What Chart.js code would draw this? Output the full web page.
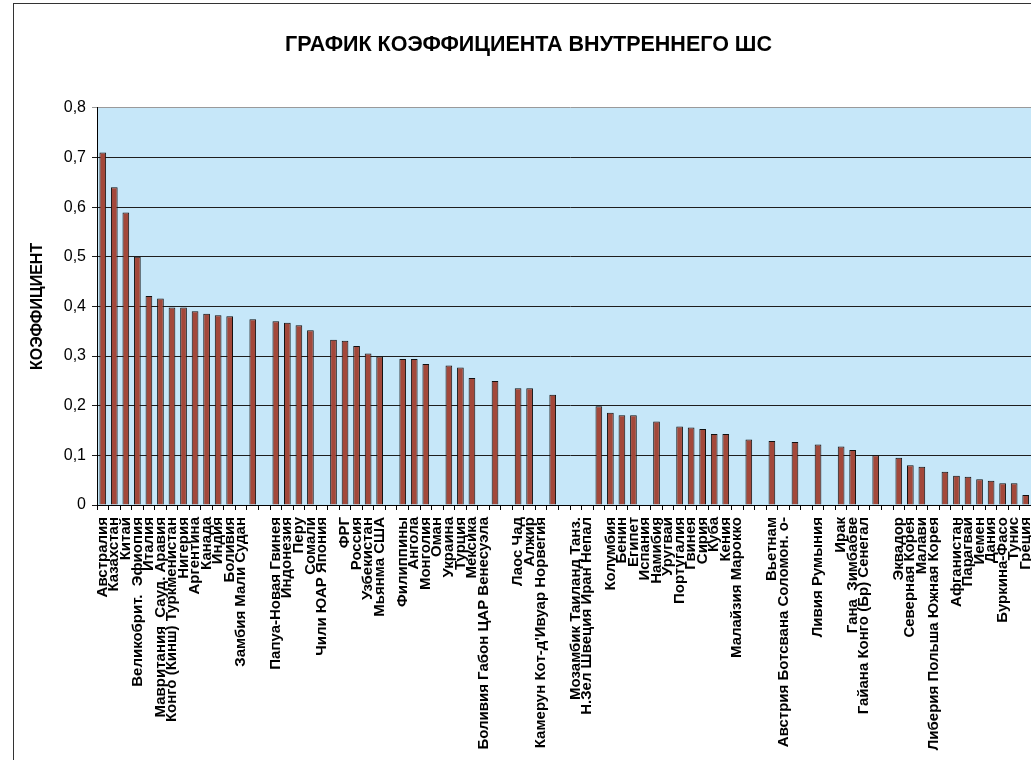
<!DOCTYPE html>
<html>
<head>
<meta charset="utf-8">
<script src="https://cdn.jsdelivr.net/npm/chart.js@4"></script>
<style>
  html, body { margin: 0; padding: 0; background: #fff; overflow: hidden; }
  #frame { position: absolute; left: 13px; top: 3px; width: 1100px; height: 820px; border: 1px solid #333; }
  #box { position: absolute; left: 0; top: 0; width: 1029px; height: 790px; }
</style>
</head>
<body>
<div id="frame"><div id="box"><canvas id="c"></canvas></div></div>
<script>
// Country labels along the category axis (empty slots have no label)
const categories = [
  'Австралия', 'Казахстан', 'Китай', 'Великобрит.  Эфиопия', 'Италия',
  'Мавритания  Сауд. Аравия', 'Конго (Кинш) Туркменистан', 'Нигерия', 'Аргентина', 'Канада',
  'Индия', 'Боливия', 'Замбия Мали Судан', '', '',
  'Папуа-Новая Гвинея', 'Индонезия', 'Перу', 'Сомали', 'Чили ЮАР Япония',
  '', 'ФРГ', 'Россия', 'Узбекистан', 'Мьянма США',
  '', 'Филиппины', 'Ангола', 'Монголия', 'Оман',
  'Украина', 'Турция', 'Мексика', 'Боливия Габон ЦАР Венесуэла', '',
  '', 'Лаос Чад', 'Алжир', 'Камерун Кот-д\'Ивуар Норвегия', '',
  '', 'Мозамбик Таиланд Танз.', 'Н.Зел Швеция Иран Непал', '', 'Колумбия',
  'Бенин', 'Египет', 'Испания', 'Намибия', 'Уругвай',
  'Португалия', 'Гвинея', 'Сирия', 'Куба', 'Кения',
  'Малайзия Марокко', '', '', 'Вьетнам', 'Австрия Ботсвана Соломон. о-',
  '', '', 'Ливия Румыния', '', 'Ирак',
  'Гана  Зимбабве', 'Гайана Конго (Бр) Сенегал', '', '', 'Эквадор',
  'Северная Корея', 'Малави', 'Либерия Польша Южная Корея', '', 'Афганистан',
  'Парагвай', 'Йемен', 'Дания', 'Буркина-Фасо', 'Тунис',
  'Греция', ''
];

// Coefficient per slot (null = no bar)
const coefficients = [
  0.71, 0.64, 0.589, 0.5, 0.421,
  0.416, 0.398, 0.398, 0.39, 0.385,
  0.382, 0.38, null, 0.374, null,
  0.37, 0.367, 0.362, 0.352, null,
  0.333, 0.331, 0.32, 0.305, 0.299,
  null, 0.294, 0.294, 0.284, null,
  0.281, 0.277, 0.256, null, 0.25,
  null, 0.235, 0.235, null, 0.222,
  null, null, null, 0.199, 0.186,
  0.181, 0.181, null, 0.168, null,
  0.158, 0.156, 0.153, 0.143, 0.143,
  null, 0.132, null, 0.129, null,
  0.127, null, 0.122, null, 0.118,
  0.111, null, 0.1, null, 0.095,
  0.08, 0.077, null, 0.067, 0.059,
  0.057, 0.052, 0.049, 0.044, 0.044,
  0.02, null
];

const yTickLabels = ['0', '0,1', '0,2', '0,3', '0,4', '0,5', '0,6', '0,7', '0,8'];

const chartTitle = 'ГРАФИК КОЭФФИЦИЕНТА ВНУТРЕННЕГО ШС';
const yAxisTitle = 'КОЭФФИЦИЕНТ';

const FONT = 'Liberation Sans, Arial, sans-serif';

// Light blue fill behind the plot area
const plotBackground = {
  id: 'plotBackground',
  beforeDraw(chart) {
    const { ctx, chartArea: a } = chart;
    ctx.save();
    ctx.fillStyle = '#C6E7F9';
    ctx.fillRect(a.left, a.top, a.right - a.left, a.bottom - a.top);
    ctx.restore();
  }
};

new Chart(document.getElementById('c'), {
  type: 'bar',
  data: {
    labels: categories,
    datasets: [{
      data: coefficients,
      backgroundColor: '#A3483A',
      borderColor: '#111',
      borderWidth: 1,
      categoryPercentage: 1.0,
      barPercentage: 0.58
    }]
  },
  options: {
    responsive: true,
    maintainAspectRatio: false,
    animation: false,
    devicePixelRatio: 1,
    layout: { padding: 0 },
    plugins: {
      legend: { display: false },
      tooltip: { enabled: false },
      title: {
        display: true,
        text: chartTitle,
        color: '#000',
        font: { family: FONT, size: 21.5, weight: 'bold', lineHeight: 1.2 },
        padding: { top: 28, bottom: 50 }
      }
    },
    scales: {
      x: {
        offset: true,
        grid: {
          display: true,
          offset: true,
          drawOnChartArea: false,
          drawTicks: true,
          tickLength: 5,
          color: '#000'
        },
        border: { display: true, color: '#000', width: 1 },
        ticks: {
          autoSkip: false,
          minRotation: 90,
          maxRotation: 90,
          padding: 7,
          color: '#000',
          font: { family: FONT, size: 15, weight: 'bold' }
        },
        afterFit(s) { s.height = 289; s.paddingLeft = 0; s.paddingRight = 0; }
      },
      y: {
        min: 0,
        max: 0.8,
        ticks: {
          stepSize: 0.1,
          padding: 6,
          color: '#000',
          font: { family: FONT, size: 16 },
          callback: (v, i) => yTickLabels[i]
        },
        grid: {
          color: (c) => (c.tick && c.tick.value > 0.79 ? '#9a9a9a' : '#1e1e1e'),
          lineWidth: 1,
          drawTicks: true,
          tickLength: 5
        },
        border: { display: true, color: '#000', width: 1 },
        title: {
          display: true,
          text: yAxisTitle,
          color: '#000',
          font: { family: FONT, size: 16, weight: 'bold', lineHeight: 1.2 },
          padding: { top: 14, bottom: 0 }
        },
        afterFit(s) { s.width = 83; s.paddingTop = 0; s.paddingBottom = 0; }
      }
    }
  },
  plugins: [plotBackground]
});
</script>
</body>
</html>
